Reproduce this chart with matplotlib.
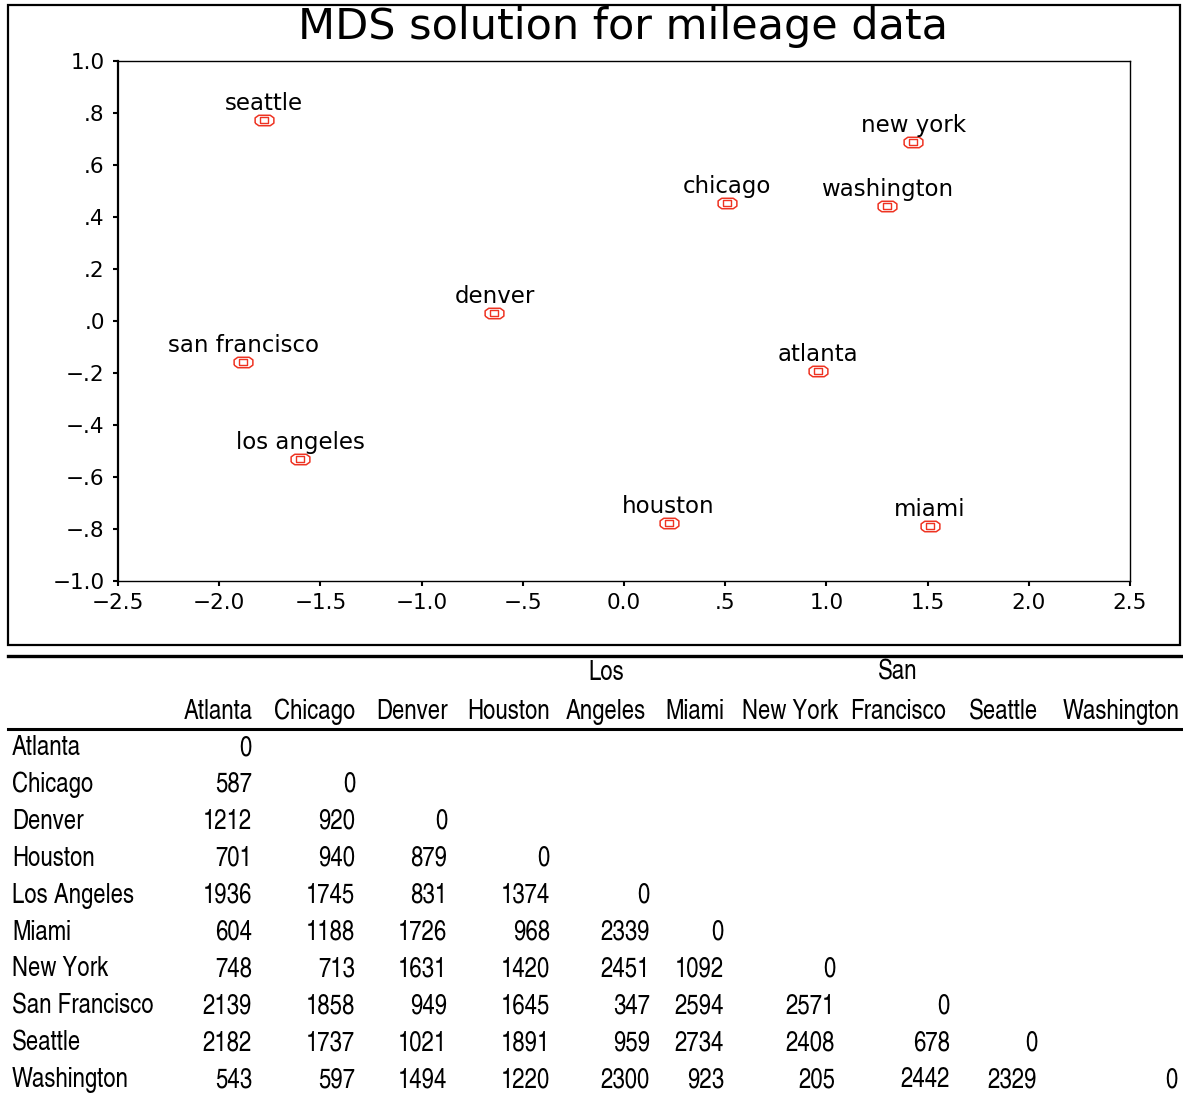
import numpy as np
import matplotlib.pyplot as plt
from matplotlib.patches import Rectangle
from matplotlib.lines import Line2D

# MDS coordinates
cities = ["seattle", "new york", "chicago", "washington", "denver",
          "san francisco", "atlanta", "los angeles", "houston", "miami"]
dim1 = [-1.78, 1.43, 0.51, 1.30, -0.64, -1.88, 0.96, -1.60, 0.22, 1.51]
dim2 = [0.773, 0.688, 0.454, 0.442, 0.031, -0.158, -0.192, -0.531, -0.777, -0.788]

xticks = [-2.5, -2.0, -1.5, -1.0, -0.5, 0.0, 0.5, 1.0, 1.5, 2.0, 2.5]
xticklabels = ["\u22122.5", "\u22122.0", "\u22121.5", "\u22121.0", "\u2212.5", "0.0",
               ".5", "1.0", "1.5", "2.0", "2.5"]
yticks = [1.0, 0.8, 0.6, 0.4, 0.2, 0.0, -0.2, -0.4, -0.6, -0.8, -1.0]
yticklabels = ["1.0", ".8", ".6", ".4", ".2", ".0", "\u2212.2", "\u2212.4",
               "\u2212.6", "\u2212.8", "\u22121.0"]

# mileage table (lower triangle)
tab_names = ["Atlanta", "Chicago", "Denver", "Houston", "Los Angeles", "Miami",
             "New York", "San Francisco", "Seattle", "Washington"]
tab_heads = [("", "Atlanta"), ("", "Chicago"), ("", "Denver"), ("", "Houston"),
             ("Los", "Angeles"), ("", "Miami"), ("", "New York"),
             ("San", "Francisco"), ("", "Seattle"), ("", "Washington")]
miles = [
    [0],
    [587, 0],
    [1212, 920, 0],
    [701, 940, 879, 0],
    [1936, 1745, 831, 1374, 0],
    [604, 1188, 1726, 968, 2339, 0],
    [748, 713, 1631, 1420, 2451, 1092, 0],
    [2139, 1858, 949, 1645, 347, 2594, 2571, 0],
    [2182, 1737, 1021, 1891, 959, 2734, 2408, 678, 0],
    [543, 597, 1494, 1220, 2300, 923, 205, 2442, 2329, 0],
]

W, H = 1183, 1093
plt.rcParams['font.family'] = ['DejaVu Sans']
fig = plt.figure(figsize=(W/100, H/100), dpi=100)

# outer box round the chart
fig.patches.append(Rectangle((8/W, 1-645/H), 1172/W, 640/H, transform=fig.transFigure,
                             fill=False, lw=1.6, ec="black"))

ax = fig.add_axes([118/W, 1-581/H, 1012/W, 520/H])
red = "#ee3322"
octa = [(-0.9, -0.25), (-0.55, -0.5), (0.55, -0.5), (0.9, -0.25), (0.9, 0.25),
        (0.55, 0.5), (-0.55, 0.5), (-0.9, 0.25), (-0.9, -0.25)]
rect = [(-0.5, -0.35), (0.5, -0.35), (0.5, 0.35), (-0.5, 0.35), (-0.5, -0.35)]
ax.plot(dim1, dim2, ls="none", marker=octa, ms=13.5, mfc="none", mec=red, mew=1.1)
ax.plot(dim1, dim2, ls="none", marker=rect, ms=6, mfc="none", mec=red, mew=1.0)
for name, x, y in zip(cities, dim1, dim2):
    ax.annotate(name, (x, y), xytext=(0, 7), textcoords="offset points",
                ha="center", va="baseline", fontsize=16.5)

ax.set_xlim(-2.5, 2.5)
ax.set_ylim(-1.0, 1.0)
ax.set_xticks(xticks)
ax.set_xticklabels(xticklabels)
ax.set_yticks(yticks)
ax.set_yticklabels(yticklabels)
ax.tick_params(direction="out", length=3.5, width=1.5, labelsize=15.5)
ax.tick_params(axis="x", pad=5)
ax.tick_params(axis="y", pad=6)
for s in ax.spines.values():
    s.set_linewidth(1.0)
ax.spines["left"].set_linewidth(1.6)
fig.text(623/W, 1-27/H, "MDS solution for mileage data", ha="center", va="center",
         fontsize=31)

# table
tfont = ["TeX Gyre Heros Cn", "Liberation Sans"]
tfs = 19.5

fig.add_artist(Line2D([8/W, 1], [1-656/H]*2, transform=fig.transFigure, color="black", lw=2.4))
fig.add_artist(Line2D([8/W, 1], [1-729/H]*2, transform=fig.transFigure, color="black", lw=2.2))

col_right = [252, 355, 447, 550, 650, 724, 835, 950, 1037, 1177]
col_mid = [218, 315, 412, 509, 606, 695, 790, 898, 1004, 1121]
for cx, (h1, h2) in zip(col_mid, tab_heads):
    if h1:
        fig.text(cx/W, 1-673/H, h1, ha="center", va="center", fontsize=tfs, family=tfont)
    fig.text(cx/W, 1-712/H, h2, ha="center", va="center", fontsize=tfs, family=tfont)

row0, dy = 748, 36.9
for i, (nm, vals) in enumerate(zip(tab_names, miles)):
    yy = 1-(row0 + i*dy)/H
    fig.text(12/W, yy, nm, ha="left", va="center", fontsize=tfs, family=tfont)
    for j, v in enumerate(vals):
        fig.text(col_right[j]/W, yy, str(v), ha="right", va="center", fontsize=tfs, family=tfont)

fig.savefig("out.png", dpi=100)
